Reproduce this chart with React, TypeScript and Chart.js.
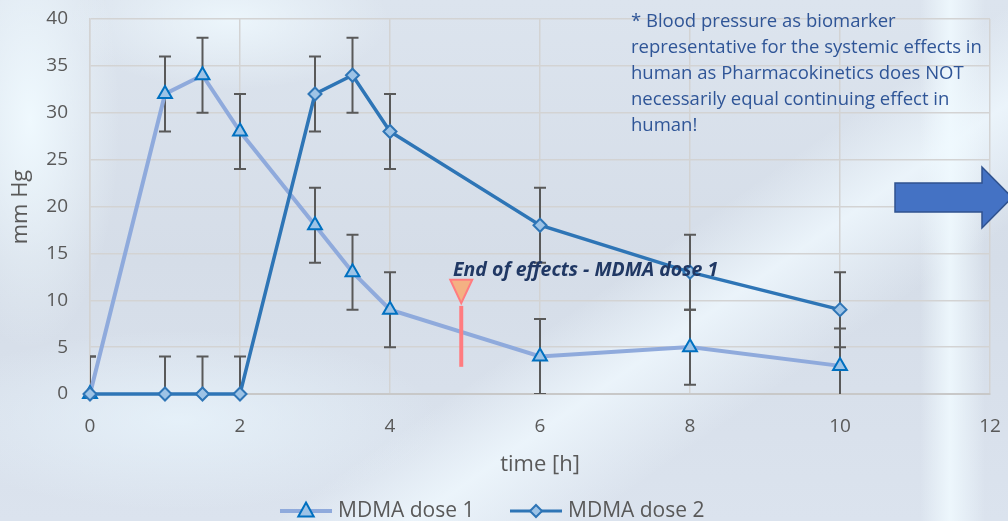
import React, { useEffect, useRef } from "react";
import { Chart, registerables } from "chart.js";

Chart.register(...registerables);

// ---- data ----
const timeH = [0, 1, 1.5, 2, 3, 3.5, 4, 6, 8, 10];
const dose1 = [0, 32, 34, 28, 18, 13, 9, 4, 5, 3];
const dose2 = [0, 0, 0, 0, 32, 34, 28, 18, 13, 9];
const dose1Err = [4, 4, 4, 4, 4, 4, 4, 4, 4, 4];
const dose2Err = [4, 4, 4, 4, 4, 4, 4, 4, 4, 4];
const seriesLabels = ["MDMA dose 1", "MDMA dose 2"];
const xAxisTitle = "time [h]";
const yAxisTitle = "mm Hg";
const noteLines = [
  "* Blood pressure as biomarker",
  "representative for the systemic effects in",
  "human as Pharmacokinetics does NOT",
  "necessarily equal continuing effect in",
  "human!",
];
const endLabel = "End of effects - MDMA dose 1";
const endMarkerX = 4.95;
const endMarkerTop = 12.2;
const endMarkerTip = 9.7;
const endLineFrom = 9.4;
const endLineTo = 2.9;

const FONT = "'Open Sans', 'Liberation Sans', sans-serif";
const GRAY = "#595959";
const C1_LINE = "#8faadc";
const C2_LINE = "#2e75b6";
const MARK_FILL = "#9dc3e6";
const MARK_STROKE1 = "#0070c0";

function drawTriangle(ctx: CanvasRenderingContext2D, x: number, y: number, s: number) {
  ctx.beginPath();
  ctx.moveTo(x, y - s * 0.6);
  ctx.lineTo(x + s * 0.55, y + s * 0.4);
  ctx.lineTo(x - s * 0.55, y + s * 0.4);
  ctx.closePath();
  ctx.fillStyle = MARK_FILL;
  ctx.fill();
  ctx.lineWidth = 2;
  ctx.strokeStyle = MARK_STROKE1;
  ctx.stroke();
}
function drawDiamond(ctx: CanvasRenderingContext2D, x: number, y: number, s: number) {
  ctx.beginPath();
  ctx.moveTo(x, y - s);
  ctx.lineTo(x + s, y);
  ctx.lineTo(x, y + s);
  ctx.lineTo(x - s, y);
  ctx.closePath();
  ctx.fillStyle = MARK_FILL;
  ctx.fill();
  ctx.lineWidth = 2;
  ctx.strokeStyle = C2_LINE;
  ctx.stroke();
}

const overlayPlugin = {
  id: "overlay",
  beforeDatasetsDraw(chart: any) {
    const { ctx, chartArea: a, scales } = chart;
    const xs = scales.x, ys = scales.y;
    ctx.save();
    ctx.beginPath();
    ctx.rect(a.left, a.top, a.right - a.left, a.bottom - a.top);
    ctx.clip();
    ctx.strokeStyle = "#595959";
    ctx.lineWidth = 2;
    const drawBars = (vals: number[], errs: number[]) => {
      vals.forEach((v, i) => {
        const px = xs.getPixelForValue(timeH[i]);
        const top = ys.getPixelForValue(v + errs[i]);
        const bot = ys.getPixelForValue(v - errs[i]);
        ctx.beginPath();
        ctx.moveTo(px, top);
        ctx.lineTo(px, bot);
        ctx.moveTo(px - 6, top);
        ctx.lineTo(px + 6, top);
        ctx.moveTo(px - 6, bot);
        ctx.lineTo(px + 6, bot);
        ctx.stroke();
      });
    };
    drawBars(dose1, dose1Err);
    drawBars(dose2, dose2Err);
    ctx.restore();
  },
  afterDraw(chart: any) {
    const { ctx, chartArea: a, scales } = chart;
    const xs = scales.x, ys = scales.y;
    ctx.save();
    // axis titles
    ctx.fillStyle = GRAY;
    ctx.font = `22px ${FONT}`;
    ctx.textAlign = "center";
    ctx.textBaseline = "middle";
    ctx.fillText(xAxisTitle, (a.left + a.right) / 2, 465);
    ctx.save();
    ctx.translate(21, 207);
    ctx.rotate(-Math.PI / 2);
    ctx.fillText(yAxisTitle, 0, 0);
    ctx.restore();

    // legend
    const ly = 511;
    ctx.lineWidth = 4;
    ctx.strokeStyle = C1_LINE;
    ctx.beginPath();
    ctx.moveTo(280, ly);
    ctx.lineTo(332, ly);
    ctx.stroke();
    drawTriangle(ctx, 306, ly, 14);
    ctx.lineWidth = 3;
    ctx.strokeStyle = C2_LINE;
    ctx.beginPath();
    ctx.moveTo(510, ly);
    ctx.lineTo(562, ly);
    ctx.stroke();
    drawDiamond(ctx, 536, ly, 6);
    ctx.fillStyle = GRAY;
    ctx.font = `21px ${FONT}`;
    ctx.textAlign = "left";
    ctx.fillText(seriesLabels[0], 338, ly);
    ctx.fillText(seriesLabels[1], 568, ly);

    // note
    ctx.fillStyle = "#2f5597";
    ctx.font = `18.5px ${FONT}`;
    ctx.textBaseline = "middle";
    noteLines.forEach((l, i) => ctx.fillText(l, 631, 22 + i * 26));

    // end-of-effects label
    ctx.fillStyle = "#203864";
    ctx.font = `italic bold 19.5px ${FONT}`;
    ctx.fillText(endLabel, 453, 270);

    // end marker
    const mx = xs.getPixelForValue(endMarkerX);
    ctx.strokeStyle = "#ff7c80";
    ctx.lineWidth = 4;
    ctx.beginPath();
    ctx.moveTo(mx, ys.getPixelForValue(endLineFrom));
    ctx.lineTo(mx, ys.getPixelForValue(endLineTo));
    ctx.stroke();
    const tt = ys.getPixelForValue(endMarkerTop);
    const tp = ys.getPixelForValue(endMarkerTip);
    ctx.beginPath();
    ctx.moveTo(mx - 11, tt);
    ctx.lineTo(mx + 11, tt);
    ctx.lineTo(mx, tp);
    ctx.closePath();
    ctx.fillStyle = "#f4b183";
    ctx.fill();
    ctx.lineWidth = 2;
    ctx.stroke();

    // arrow
    ctx.beginPath();
    ctx.moveTo(895, 183);
    ctx.lineTo(982, 183);
    ctx.lineTo(982, 167);
    ctx.lineTo(1012, 197.5);
    ctx.lineTo(982, 228);
    ctx.lineTo(982, 212);
    ctx.lineTo(895, 212);
    ctx.closePath();
    ctx.fillStyle = "#4472c4";
    ctx.fill();
    ctx.strokeStyle = "#2f528f";
    ctx.lineWidth = 1.5;
    ctx.stroke();
    ctx.restore();
  },
};

export default function App() {
  const ref = useRef<HTMLCanvasElement | null>(null);
  useEffect(() => {
    document.body.style.margin = "0";
    const chart = new Chart(ref.current as HTMLCanvasElement, {
      type: "line",
      data: {
        datasets: [
          {
            label: seriesLabels[0],
            data: timeH.map((t, i) => ({ x: t, y: dose1[i] })),
            borderColor: C1_LINE,
            borderWidth: 4,
            pointStyle: "triangle",
            pointRadius: 8,
            pointBackgroundColor: MARK_FILL,
            pointBorderColor: MARK_STROKE1,
            pointBorderWidth: 2,
            order: 2,
            clip: false,
          },
          {
            label: seriesLabels[1],
            data: timeH.map((t, i) => ({ x: t, y: dose2[i] })),
            borderColor: C2_LINE,
            borderWidth: 3.5,
            pointStyle: "rectRot",
            pointRadius: 6.5,
            pointBackgroundColor: MARK_FILL,
            pointBorderColor: C2_LINE,
            pointBorderWidth: 2,
            order: 1,
            clip: false,
          },
        ],
      },
      options: {
        animation: false,
        responsive: false,
        layout: { padding: { top: 19, right: 18, left: 0, bottom: 0 } },
        plugins: { legend: { display: false }, tooltip: { enabled: false } },
        scales: {
          x: {
            type: "linear",
            min: 0,
            max: 12,
            ticks: { stepSize: 2, color: GRAY, font: { size: 19, family: FONT }, padding: 0 },
            grid: { color: "#d3d3d3", lineWidth: 1.5, drawTicks: true, tickLength: 21, tickColor: "rgba(0,0,0,0)" },
            border: { display: true, color: "#c8c8c8", width: 2 },
            afterFit: (s: any) => { s.height = 127; },
          },
          y: {
            min: 0,
            max: 40,
            ticks: { stepSize: 5, color: GRAY, font: { size: 19, family: FONT }, padding: 0 },
            grid: { color: "#d3d3d3", lineWidth: 1.5, drawTicks: true, tickLength: 22, tickColor: "rgba(0,0,0,0)" },
            border: { display: true, color: "#d3d3d3", width: 1.5 },
            afterFit: (s: any) => { s.width = 90; },
          },
        },
      },
      plugins: [overlayPlugin],
    } as any);
    return () => chart.destroy();
  }, []);
  const bg = [
    "radial-gradient(ellipse 90px 230px at 30px 120px, rgba(240,250,255,0.95), rgba(240,250,255,0) 100%)",
    "radial-gradient(ellipse 160px 70px at 230px 20px, rgba(240,250,255,0.8), rgba(240,250,255,0) 100%)",
    "linear-gradient(90deg, rgba(255,255,255,0) 920px, rgba(240,250,255,0.85) 950px, rgba(255,255,255,0) 985px)",
    "linear-gradient(145deg, rgba(255,255,255,0) 58%, rgba(238,247,253,0.85) 66%, rgba(255,255,255,0) 76%)",
    "radial-gradient(ellipse 260px 90px at 180px 420px, rgba(232,244,252,0.8), rgba(232,244,252,0) 100%)",
    "linear-gradient(180deg, #dce4ee 0%, #d5dde8 50%, #dbe3ee 100%)",
  ].join(",");
  return (
    <div style={{ position: "fixed", left: 0, top: 0, width: 1008, height: 521, background: bg, overflow: "hidden" }}>
      <canvas ref={ref} width={1008} height={521} style={{ display: "block" }} />
    </div>
  );
}
